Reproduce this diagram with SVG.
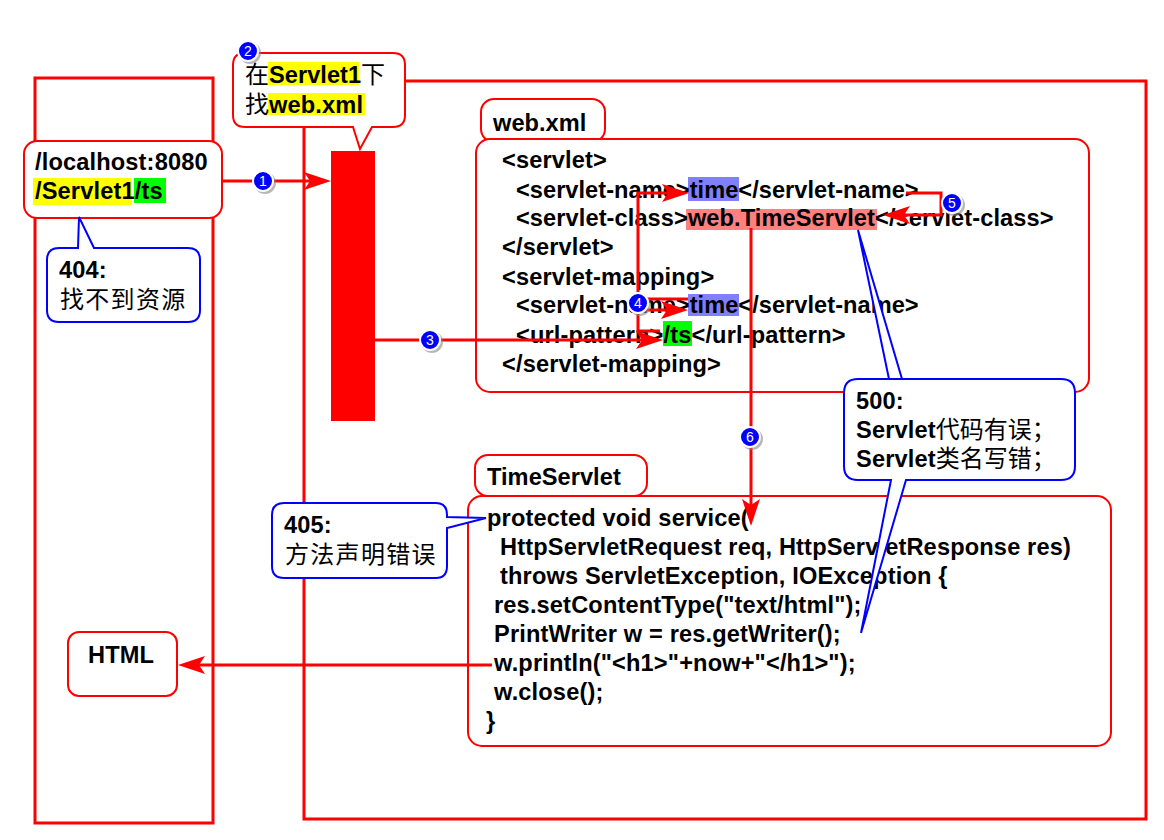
<svg xmlns="http://www.w3.org/2000/svg" width="1164" height="840" viewBox="0 0 1164 840">
<style>
text{font-family:"Liberation Sans","Noto Sans CJK SC",sans-serif;font-size:23.6px;font-weight:bold;fill:#000;white-space:pre;letter-spacing:.15px}
.tight{letter-spacing:.04px}
.cjk{font-family:"Noto Sans CJK SC",sans-serif;font-weight:400;font-size:24px;letter-spacing:0}
.wide{letter-spacing:1.3px}
.frame{fill:none;stroke:#f00;stroke-width:3}
.box{fill:#fff;stroke:#f00;stroke-width:2}
.blue{fill:#fff;stroke:#00f;stroke-width:2}
.conn{fill:none;stroke:#f00;stroke-width:3}
.arrow{marker-end:url(#head)}
.badge-s{fill:#888;opacity:.6}
.badge-c{fill:#00f;stroke:#fff;stroke-width:2}
.badge-t{font-size:14px;font-weight:normal;fill:#fff;text-anchor:middle}
</style>
<defs>
<marker id="head" markerUnits="userSpaceOnUse" markerWidth="30" markerHeight="22" refX="21" refY="11" orient="auto">
<path d="M0 2L27 11L0 20L6 11Z" fill="#f00"/>
</marker>
</defs>
<g id="browser"><rect class="frame" x="35" y="78" width="178" height="745"/></g>
<g id="server"><rect class="frame" x="304" y="81" width="842" height="738"/></g>
<g id="app-bar"><rect x="331" y="151" width="44" height="270" fill="#f00"/></g>
<g id="web-xml-label">
<rect class="box" x="481" y="99" width="124" height="43" rx="13"/>
<text class="tight" x="493" y="131">web.xml</text>
</g>
<g id="web-xml">
<rect class="box" x="476" y="139" width="613" height="253" rx="14"/>
<rect x="688" y="177" width="51" height="24" fill="#8080ff"/>
<rect x="686" y="209" width="191" height="21" fill="#ff8080"/>
<rect x="688" y="294" width="51" height="22" fill="#8080ff"/>
<rect x="663" y="321" width="29" height="25" fill="#0f0"/>
<text x="502" y="168">&lt;servlet&gt;</text>
<text class="tight" x="516" y="198">&lt;servlet-name&gt;time&lt;/servlet-name&gt;</text>
<text class="tight" x="516" y="226" style="letter-spacing:.09px">&lt;servlet-class&gt;web.TimeServlet&lt;/servlet-class&gt;</text>
<text x="502" y="255">&lt;/servlet&gt;</text>
<text x="502" y="285">&lt;servlet-mapping&gt;</text>
<text class="tight" x="516" y="313">&lt;servlet-name&gt;time&lt;/servlet-name&gt;</text>
<text x="516" y="343">&lt;url-pattern&gt;/ts&lt;/url-pattern&gt;</text>
<text x="502" y="372">&lt;/servlet-mapping&gt;</text>
</g>
<g id="time-servlet-label">
<rect class="box" x="475" y="455" width="172" height="41" rx="13"/>
<text class="tight" x="487" y="485">TimeServlet</text>
</g>
<g id="time-servlet">
<rect class="box" x="468" y="496" width="643" height="250" rx="14"/>
<text x="487" y="526">protected void service(</text>
<text x="500" y="555">HttpServletRequest req, HttpServletResponse res)</text>
<text x="500" y="584">throws ServletException, IOException {</text>
<text x="494" y="613">res.setContentType("text/html");</text>
<text x="494" y="642">PrintWriter w = res.getWriter();</text>
<text x="494" y="671">w.println("&lt;h1&gt;"+now+"&lt;/h1&gt;");</text>
<text x="494" y="700">w.close();</text>
<text x="486" y="729">}</text>
</g>
<g id="html">
<rect class="box" x="68" y="632" width="109" height="64" rx="11"/>
<text x="88" y="663">HTML</text>
</g>
<g id="connectors">
<path class="conn arrow" d="M215 181H325"/>
<path class="conn arrow" d="M375 340H657"/>
<path class="conn arrow" d="M660 331H638V193H683"/>
<path class="conn" d="M638 299H688"/>
<path class="conn arrow" d="M640 310H682"/>
<path class="conn arrow" d="M906 193H941V215H889"/>
<path class="conn arrow" d="M751 228V520"/>
<path class="conn arrow" d="M492 665H184"/>
</g>
<g id="callout-url">
<rect class="box" x="24" y="141" width="198" height="77" rx="13"/>
<rect x="33" y="178" width="99" height="27" fill="#ff0"/>
<rect x="134" y="178" width="32" height="25" fill="#0f0"/>
<text x="35" y="170">/localhost:8080</text>
<text x="35" y="199">/Servlet1/ts</text>
</g>
<g id="callout-find">
<path class="box" d="M245 53H393Q405 53 405 65V115Q405 127 393 127H372L360 149L353 127H245Q233 127 233 115V65Q233 53 245 53Z"/>
<rect x="268" y="62" width="91" height="23" fill="#ff0"/>
<rect x="268" y="93" width="97" height="22" fill="#ff0"/>
<text class="cjk" x="245" y="83">在</text><text class="tight" x="269" y="83">Servlet1</text><text class="cjk" x="361" y="83">下</text>
<text class="cjk" x="245" y="113">找</text><text x="269" y="113">web.xml</text>
</g>
<g id="callout-404">
<path class="blue" d="M59 248H78L79 217L94 248H188Q200 248 200 260V310Q200 322 188 322H59Q47 322 47 310V260Q47 248 59 248Z"/>
<text x="59" y="278">404:</text>
<text class="cjk wide" x="60" y="308">找不到资源</text>
</g>
<g id="callout-405">
<path class="blue" d="M284 503H436Q447 503 447 515V517L486 518L447 528V566Q447 578 436 578H284Q272 578 272 566V515Q272 503 284 503Z"/>
<text x="284" y="533">405:</text>
<text class="cjk wide" x="285" y="563">方法声明错误</text>
</g>
<g id="callout-500">
<path class="blue" d="M858 230L889 379H902L858 230ZM902 379H1061Q1075 379 1075 393V466Q1075 480 1061 480H906L861 633L891 480H858Q844 480 844 466V393Q844 379 858 379H889" />
<text x="856" y="409">500:</text>
<text x="856" y="438">Servlet<tspan class="cjk">代码有误；</tspan></text>
<text x="856" y="467">Servlet<tspan class="cjk">类名写错；</tspan></text>
</g>
<g id="badges">
<g id="badge-1"><circle class="badge-s" cx="265" cy="183" r="11"/><circle class="badge-c" cx="263" cy="181" r="10"/><text class="badge-t" x="263" y="186">1</text></g>
<g id="badge-2"><circle class="badge-s" cx="250" cy="53" r="11"/><circle class="badge-c" cx="248" cy="51" r="10"/><text class="badge-t" x="248" y="56">2</text></g>
<g id="badge-3"><circle class="badge-s" cx="432" cy="342" r="11"/><circle class="badge-c" cx="430" cy="340" r="10"/><text class="badge-t" x="430" y="345">3</text></g>
<g id="badge-4"><circle class="badge-s" cx="640" cy="305" r="11"/><circle class="badge-c" cx="638" cy="303" r="10"/><text class="badge-t" x="638" y="308">4</text></g>
<g id="badge-5"><circle class="badge-s" cx="954" cy="205" r="11"/><circle class="badge-c" cx="952" cy="203" r="10"/><text class="badge-t" x="952" y="208">5</text></g>
<g id="badge-6"><circle class="badge-s" cx="752" cy="439" r="11"/><circle class="badge-c" cx="750" cy="437" r="10"/><text class="badge-t" x="750" y="442">6</text></g>
</g>
</svg>
